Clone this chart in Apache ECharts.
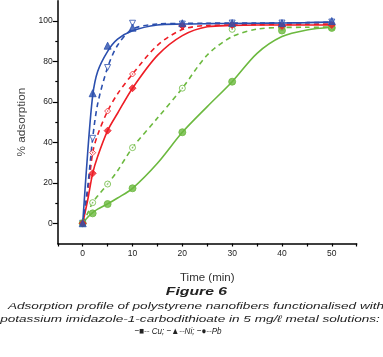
<!DOCTYPE html>
<html>
<head>
<meta charset="utf-8">
<script src="https://cdn.jsdelivr.net/npm/echarts@6/dist/echarts.min.js"></script>
<style>
  html, body { margin: 0; padding: 0; background: #fff; }
  #chart { width: 383px; height: 357px; }
</style>
</head>
<body>
<div id="chart"></div>
<script>
// measured time points (min)
const times = [0, 2, 5, 10, 20, 30, 40, 50];

// measured % adsorption, solid = filled markers, dashed = open markers
const cuSolid  = [0, 24.7, 45.8, 66.8, 97.6, 98, 97.5, 98];
const cuDashed = [0, 34.9, 55.5, 73.8, 97.8, 98, 98, 98.5];
const niSolid  = [0, 64.3, 87.8, 96.7, 98.9, 99, 99, 100];
const niDashed = [0, 42, 77, 98.9, 98.5, 99, 99, 99.5];
const pbSolid  = [0, 4.9, 9.5, 17.3, 45, 70, 95.3, 96.6];
const pbDashed = [0, 10.2, 19.4, 37.4, 66.8, 95.9, 96.8, 97];

// fitted curves
const fitTimes    = [0, 1, 2, 3, 5, 7, 10, 15, 20, 25, 30, 35, 40, 45, 50];
const cuSolidFit  = [0, 11.5, 24.7, 33, 45.8, 54.4, 66.8, 83, 92.8, 97.2, 97.8, 98, 98, 98, 98];
const cuDashedFit = [0, 15, 34.9, 43.7, 55.5, 64, 73.8, 88, 95.8, 97.8, 98, 98.2, 98.3, 98.4, 98.5];
const niSolidFit  = [0, 35, 63, 75, 85, 91, 95.2, 98, 98.5, 98.7, 98.8, 98.9, 99, 99.2, 99.5];
const niDashedFit = [0, 18, 42, 59, 77, 88, 96, 98.5, 98.8, 98.9, 99, 99, 99.1, 99.2, 99.4];
const pbSolidFit  = [0, 3, 5.3, 7, 9.6, 12.5, 17.3, 29.7, 45, 57.7, 70, 84, 92.3, 95.6, 96.9];
const pbDashedFit = [0, 5, 10.2, 13.5, 19.4, 26, 37.4, 52, 66.8, 83.2, 92.3, 96, 96.8, 96.9, 97];

const xLabels = [0, 10, 20, 30, 40, 50];
const yMajor = [0, 20, 40, 60, 80, 100];
const yMinor = [10, 30, 50, 70, 90];

const blue = '#2b4fae';
const red = '#ee1d25';
const green = '#6cb93f';

const pair = (xs, arr) => xs.map((t, i) => [t, arr[i]]);

const fitLine = (name, data, color, dashed) => ({
  name,
  type: 'line',
  data: pair(fitTimes, data),
  smooth: 0.3,
  showSymbol: false,
  symbol: 'none',
  lineStyle: { color, width: 1.6, type: dashed ? [5, 4] : 'solid' },
  z: 2
});

const points = (name, data, color, symbol, open, rotate) => ({
  name,
  type: 'scatter',
  data: pair(times, data),
  symbol,
  symbolSize: open ? 6 : 7,
  symbolRotate: rotate || 0,
  itemStyle: { color: open ? '#fff' : color, borderColor: color, borderWidth: 1 },
  z: open ? 4 : 5
});

// small centre dot of the open markers
const dots = (name, data, color) => ({
  name,
  type: 'scatter',
  data: pair(times, data),
  symbol: 'circle',
  symbolSize: 1.6,
  itemStyle: { color },
  z: 4
});

const font = 'Liberation Sans, Arial, sans-serif';

// caption lines, stretched to the reference widths
const caption = (text, x, y, size, sx, weight) => ({
  type: 'text',
  x, y,
  scaleX: sx,
  style: {
    text,
    font: `italic ${weight || 'normal'} ${size}px ${font}`,
    fill: '#222',
    textAlign: 'center',
    textVerticalAlign: 'middle'
  }
});

const chart = echarts.init(document.getElementById('chart'));

chart.setOption({
  animation: false,
  graphic: [
    caption('Figure 6', 196.5, 292.5, 10.5, 1.5, 'bold'),
    caption('Adsorption profile of polystyrene nanofibers functionalised with', 196, 306.5, 9.5, 1.43),
    caption('potassium imidazole-1-carbodithioate in 5 mg/ℓ metal solutions:', 190, 319, 9.5, 1.43),
    caption('−■-- Cu; −▲--Ni; −●--Pb', 178, 331, 9.5, 0.85)
  ],
  grid: { left: 57.8, top: 0.8, width: 298.9, height: 242.7 },
  xAxis: {
    type: 'value',
    min: -5, max: 55, interval: 5,
    name: 'Time (min)',
    nameLocation: 'middle',
    nameGap: 28,
    nameTextStyle: { fontFamily: font, fontSize: 11.5, color: '#333' },
    axisLine: { show: true, onZero: false, lineStyle: { color: '#000', width: 1.5 } },
    axisTick: { show: true, length: 3, lineStyle: { color: '#000', width: 1.2 } },
    axisLabel: {
      fontFamily: font, fontSize: 8.5, color: '#222', margin: 6,
      formatter: (v) => xLabels.includes(v) ? String(v) : ''
    },
    splitLine: { show: false }
  },
  yAxis: [
    {
      type: 'value',
      min: -10, max: 110, interval: 10,
      name: '% adsorption',
      nameLocation: 'middle',
      nameGap: 26,
      nameRotate: 90,
      nameTextStyle: { fontFamily: font, fontSize: 11.8, color: '#444' },
      axisLine: { show: true, onZero: false, lineStyle: { color: '#000', width: 1.5 } },
      axisTick: { show: true, length: 5, customValues: yMajor, lineStyle: { color: '#000', width: 1.2 } },
      axisLabel: {
        fontFamily: font, fontSize: 8.5, color: '#222', margin: 5,
        customValues: yMajor
      },
      splitLine: { show: false }
    },
    {
      type: 'value',
      position: 'left',
      min: -10, max: 110, interval: 10,
      axisLine: { show: false, onZero: false },
      axisTick: { show: true, length: 2.5, customValues: yMinor, lineStyle: { color: '#000', width: 1.2 } },
      axisLabel: { show: false },
      splitLine: { show: false }
    }
  ],
  series: [
    fitLine('Pb fit dashed', pbDashedFit, green, true),
    fitLine('Pb fit', pbSolidFit, green, false),
    fitLine('Cu fit dashed', cuDashedFit, red, true),
    fitLine('Cu fit', cuSolidFit, red, false),
    fitLine('Ni fit dashed', niDashedFit, blue, true),
    fitLine('Ni fit', niSolidFit, blue, false),
    points('Pb open', pbDashed, green, 'circle', true),
    dots('Pb open dot', pbDashed, green),
    points('Pb', pbSolid, green, 'circle', false),
    points('Cu open', cuDashed, red, 'diamond', true),
    dots('Cu open dot', cuDashed, red),
    points('Cu', cuSolid, red, 'diamond', false),
    points('Ni open', niDashed, blue, 'triangle', true, 180),
    points('Ni', niSolid, blue, 'triangle', false)
  ]
});
</script>
</body>
</html>
